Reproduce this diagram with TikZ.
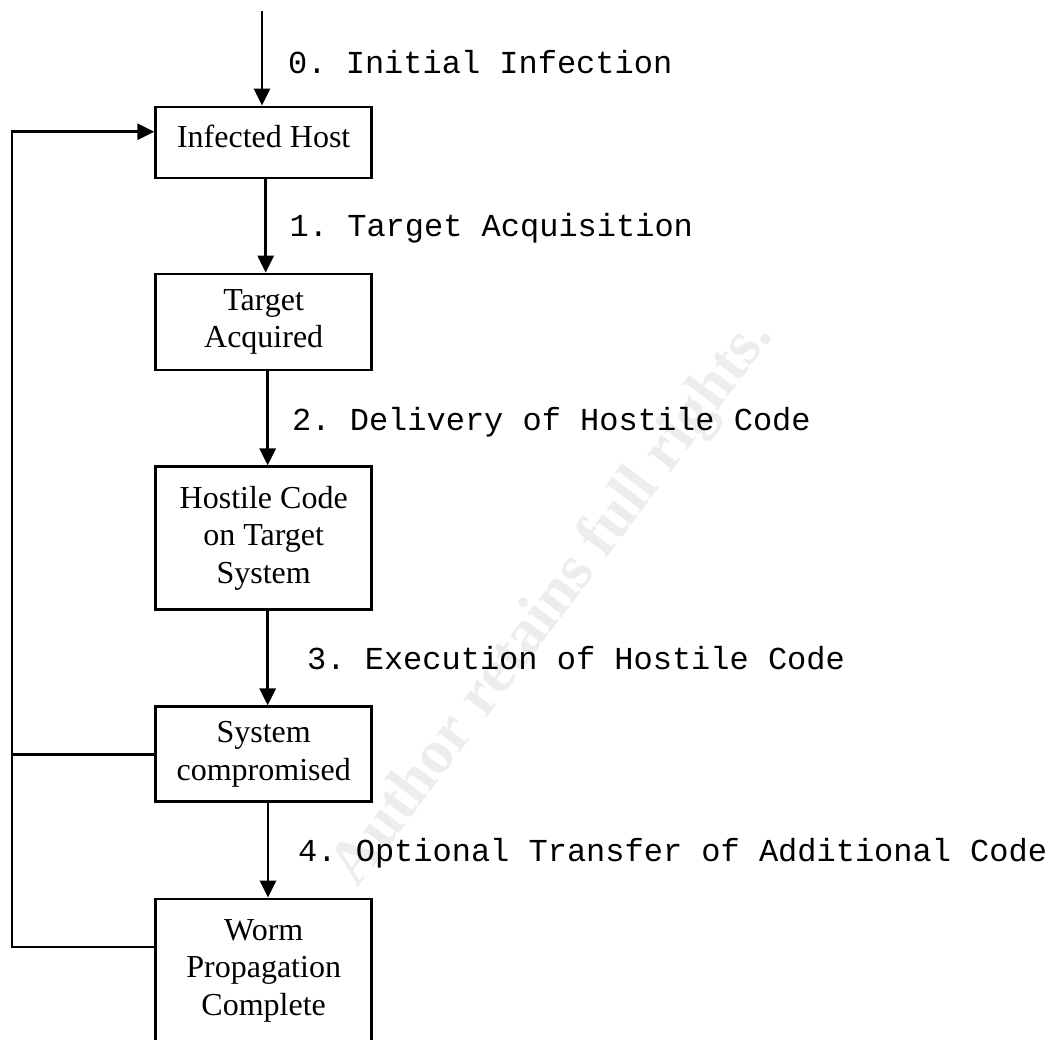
\documentclass[tikz,border=0pt]{standalone}
\usepackage{fontspec}
\setmainfont{Liberation Serif}
\setmonofont{Liberation Mono}
\usetikzlibrary{arrows.meta,calc}
\newcommand{\boxfont}{\fontsize{32}{37.5}\selectfont\rmfamily}
\newcommand{\labfont}{\fontsize{32}{37.5}\selectfont\ttfamily}
\newcommand{\wmfont}{\fontsize{63}{68}\selectfont\rmfamily\bfseries}
\tikzset{
  stepbox/.style={draw, line width=2.8pt, minimum width=216pt, align=center, inner sep=0pt, font=\boxfont},
  conn/.style={line width=2.8pt, line join=miter},
  arr/.style={conn, -{Triangle[length=17pt,width=16pt]}},
  lab/.style={anchor=base west, inner sep=0pt, font=\labfont},
}
\begin{document}
\begin{tikzpicture}[x=1pt,y=-1pt]
\useasboundingbox (0,0) rectangle (1057,1039);
% watermark
\node[anchor=base, inner sep=0pt, font=\wmfont, text=black!7, rotate=53] (wm) at (566,612) {Author retains full rights.};
% boxes
\node[stepbox, minimum height=71pt, text height=22pt, text depth=13pt] (A) at (263.7,142.5) {Infected Host};
\node[stepbox, minimum height=96pt] (B) at (263.7,322) {Target\\Acquired};
\node[stepbox, minimum height=143pt] (C) at (263.7,538.3) {Hostile Code\\on Target\\System};
\node[stepbox, minimum height=95pt] (D) at (263.7,754.3) {System\\compromised};
\node[stepbox, minimum height=143pt] (E) at (263.7,970.5) {Worm\\Propagation\\Complete};
% connectors
\coordinate (top) at (262,11);
\draw[arr] (top) -- (top |- A.north);
\draw[arr] ([xshift=2pt]A.south) -- ([xshift=2pt]B.north);
\draw[arr] ([xshift=4pt]B.south) -- ([xshift=4pt]C.north);
\draw[arr] ([xshift=4pt]C.south) -- ([xshift=4pt]D.north);
\draw[arr] ([xshift=4.3pt]D.south) -- ([xshift=4.3pt]E.north);
% feedback loop
\coordinate (Ltop) at (12,131.7);
\coordinate (Lbot) at (12,947);
\draw[conn] (D.west) -- (D.west -| Ltop);
\draw[arr] ([yshift=23.5pt]E.west) -- (Lbot) -- (Ltop) -- ([yshift=10.8pt]A.west);
% labels
\node[lab] (l0) at (288,73) {0. Initial Infection};
\node[lab] (l1) at (289.5,236.5) {1. Target Acquisition};
\node[lab] (l2) at (292,430) {2. Delivery of Hostile Code};
\node[lab] (l3) at (307,669.5) {3. Execution of Hostile Code};
\node[lab] (l4) at (298,861) {4. Optional Transfer of Additional Code};
\end{tikzpicture}
\end{document}
